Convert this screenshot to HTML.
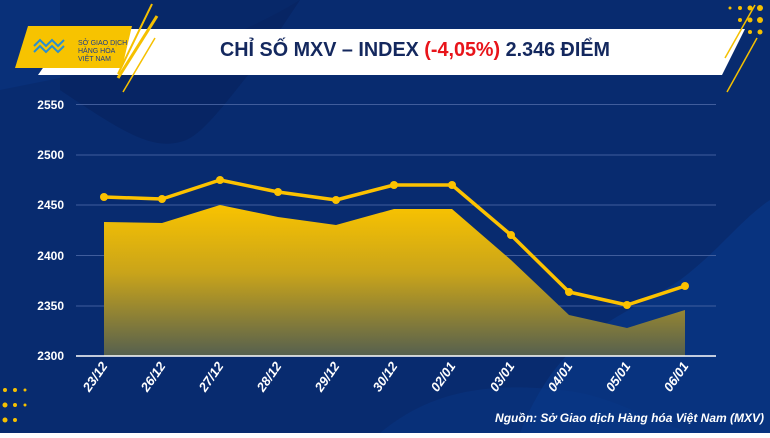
<!DOCTYPE html>
<html><head><meta charset="utf-8"><style>
body{margin:0;width:770px;height:433px;overflow:hidden;font-family:"Liberation Sans",sans-serif;}
</style></head><body>
<svg width="770" height="433" viewBox="0 0 770 433" xmlns="http://www.w3.org/2000/svg">
<defs>
<linearGradient id="ar" x1="0" y1="0" x2="0" y2="1">
<stop offset="0" stop-color="#f9c300"/><stop offset="0.45" stop-color="#c9a41a"/><stop offset="1" stop-color="#55604f"/></linearGradient>
</defs>
<rect width="770" height="433" fill="#082b6f"/>
<path d="M0 0 H300 C250 30 200 50 150 60 L0 90Z" fill="#0a3480" opacity="0.6"/>
<path d="M60 90 C120 130 150 150 180 142 C200 138 220 110 260 60 L300 0 H60Z" fill="#05205a" opacity="0.5"/>
<path d="M520 433 C560 330 620 320 680 280 C720 250 740 220 770 200 V433Z" fill="#0a3a8c" opacity="0.55"/>
<path d="M380 433 C420 400 470 380 560 390 C620 395 660 430 700 433Z" fill="#0a3a8c" opacity="0.35"/>
<g fill="#f5c000">
<circle cx="740" cy="8" r="2"/><circle cx="750" cy="8" r="2.5"/><circle cx="760" cy="8" r="3"/><circle cx="730" cy="8" r="1.5"/>
<circle cx="740" cy="20" r="2"/><circle cx="750" cy="20" r="2.5"/><circle cx="760" cy="20" r="3"/>
<circle cx="750" cy="32" r="2"/><circle cx="760" cy="32" r="2.5"/>
<circle cx="5" cy="390" r="2"/><circle cx="15" cy="390" r="2"/><circle cx="25" cy="390" r="1.5"/>
<circle cx="5" cy="405" r="2.5"/><circle cx="15" cy="405" r="2"/><circle cx="25" cy="405" r="1.5"/>
<circle cx="5" cy="420" r="2.5"/><circle cx="15" cy="420" r="2"/>
</g>
<polygon points="70,29 745,29 722,75 38,75" fill="#ffffff"/>
<polygon points="28,26 132,26 122,68 15,68" fill="#f7c300"/>
<text x="78" y="45" font-size="7" fill="#1b3d8a">SỞ GIAO DỊCH</text>
<text x="78" y="53" font-size="7" fill="#1b3d8a">HÀNG HÓA</text>
<text x="78" y="61" font-size="7" fill="#1b3d8a">VIỆT NAM</text>
<path d="M34 46 l6 -6 6 6 6 -6 6 6 6 -6 M34 52 l6 -6 6 6 6 -6 6 6 6 -6" stroke="#2a8fd0" stroke-width="2" fill="none"/>
<line x1="152" y1="4" x2="118" y2="74" stroke="#f5c000" stroke-width="2"/>
<line x1="157" y1="16" x2="118" y2="78" stroke="#f5c000" stroke-width="3"/>
<line x1="155" y1="38" x2="123" y2="92" stroke="#f5c000" stroke-width="1.5"/>
<line x1="755" y1="5" x2="725" y2="58" stroke="#f5c000" stroke-width="1.5"/>
<line x1="757" y1="38" x2="727" y2="92" stroke="#f5c000" stroke-width="1.5"/>
<text x="415" y="56" text-anchor="middle" font-size="20" font-weight="bold" fill="#14285e" textLength="390" lengthAdjust="spacingAndGlyphs">CHỈ SỐ MXV – INDEX <tspan fill="#e8141a">(-4,05%)</tspan> 2.346 ĐIỂM</text>
<g stroke="#4f6aa8" stroke-width="1" opacity="0.8">
<line x1="76" y1="104.5" x2="716" y2="104.5"/><line x1="76" y1="155" x2="716" y2="155"/>
<line x1="76" y1="205" x2="716" y2="205"/><line x1="76" y1="255.5" x2="716" y2="255.5"/>
<line x1="76" y1="306" x2="716" y2="306"/></g>
<g font-size="12" font-weight="bold" fill="#fff" text-anchor="end">
<text x="64" y="109">2550</text><text x="64" y="159">2500</text><text x="64" y="209">2450</text>
<text x="64" y="260">2400</text><text x="64" y="310">2350</text><text x="64" y="360">2300</text></g>
<polygon points="104,222 162,223 220,205 278,217 336,225 394,209 452,209 511,260 569,315 627,328 685,310 685,356 104,356" fill="url(#ar)"/>
<line x1="76" y1="356" x2="716" y2="356" stroke="#fff" stroke-width="1.5"/>
<polyline points="104,197 162,199 220,180 278,192 336,200 394,185 452,185 511,235 569,292 627,305 685,286" fill="none" stroke="#fcc200" stroke-width="3.5" stroke-linejoin="round"/>
<g fill="#fcc200">
<circle cx="104" cy="197" r="4"/><circle cx="162" cy="199" r="4"/><circle cx="220" cy="180" r="4"/><circle cx="278" cy="192" r="4"/><circle cx="336" cy="200" r="4"/><circle cx="394" cy="185" r="4"/><circle cx="452" cy="185" r="4"/><circle cx="511" cy="235" r="4"/><circle cx="569" cy="292" r="4"/><circle cx="627" cy="305" r="4"/><circle cx="685" cy="286" r="4"/></g>
<g font-size="13" font-weight="bold" font-style="italic" fill="#fff" text-anchor="end">
<text transform="translate(108,366) rotate(-55)">23/12</text>
<text transform="translate(166,366) rotate(-55)">26/12</text>
<text transform="translate(224,366) rotate(-55)">27/12</text>
<text transform="translate(282,366) rotate(-55)">28/12</text>
<text transform="translate(340,366) rotate(-55)">29/12</text>
<text transform="translate(398,366) rotate(-55)">30/12</text>
<text transform="translate(456,366) rotate(-55)">02/01</text>
<text transform="translate(515,366) rotate(-55)">03/01</text>
<text transform="translate(573,366) rotate(-55)">04/01</text>
<text transform="translate(631,366) rotate(-55)">05/01</text>
<text transform="translate(689,366) rotate(-55)">06/01</text></g>
<text x="764" y="422" text-anchor="end" font-size="12" font-weight="bold" font-style="italic" fill="#fff">Nguồn: Sở Giao dịch Hàng hóa Việt Nam (MXV)</text>
</svg>
</body></html>
